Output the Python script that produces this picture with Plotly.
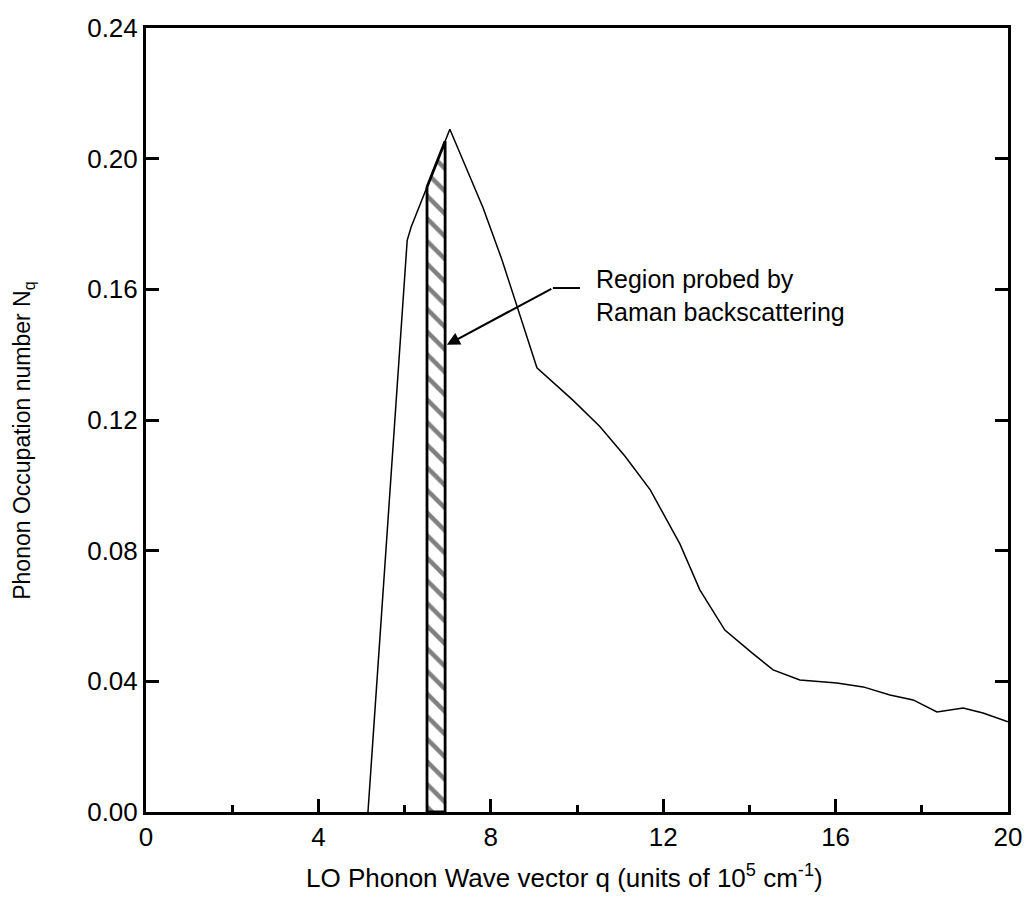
import numpy as np
import plotly.graph_objects as go

# LO phonon occupation number vs. wave vector
q_vals = [5.15, 6.06, 6.15, 7.05, 7.82, 7.93, 8.26, 9.07, 9.91, 10.53, 11.11,
          11.7, 12.39, 12.85, 13.43, 14.06, 14.55, 15.17, 16.03, 16.64, 17.26,
          17.8, 18.35, 18.96, 19.42, 20.0]
nq_vals = [0.0, 0.175, 0.179, 0.209, 0.185, 0.181, 0.169, 0.136, 0.126, 0.118,
           0.109, 0.0986, 0.082, 0.068, 0.0557, 0.0487, 0.0435, 0.0404, 0.0395,
           0.0383, 0.0358, 0.0343, 0.0306, 0.0318, 0.0303, 0.0276]

# q-window probed by Raman backscattering
raman_q = [6.52, 6.94]

# arrow: head, tail, and the short horizontal leader
arrow_head = (6.98, 0.143)
arrow_tail = (9.44, 0.1604)
leader_end_q = 10.07
label_pos = (10.39, 0.1582)

x_ticks = [0, 4, 8, 12, 16, 20]
y_ticks = [0.00, 0.04, 0.08, 0.12, 0.16, 0.20, 0.24]

FONT = "Liberation Sans, Arial, sans-serif"

fig = go.Figure()

# hatched band under the curve
q0, q1 = raman_q
n0, n1 = np.interp([q0, q1], q_vals, nq_vals)
fig.add_trace(go.Scatter(
    x=[q0, q0, q1, q1, q0], y=[0, n0, n1, 0, 0],
    mode="lines", fill="toself",
    line=dict(color="black", width=2.8),
    fillcolor="white",
    fillpattern=dict(shape="\\", size=16, solidity=0.28,
                     fgcolor="black", bgcolor="white"),
    hoverinfo="skip", showlegend=False))

# occupation curve
fig.add_trace(go.Scatter(
    x=q_vals, y=nq_vals, mode="lines",
    line=dict(color="black", width=1.5),
    showlegend=False))

# arrow pointing at the band
fig.add_annotation(
    x=arrow_head[0], y=arrow_head[1], ax=arrow_tail[0], ay=arrow_tail[1],
    xref="x", yref="y", axref="x", ayref="y",
    text="", showarrow=True, arrowhead=2, arrowsize=1.3, arrowwidth=2,
    arrowcolor="black")
fig.add_shape(type="line", xref="x", yref="y",
              x0=arrow_tail[0], y0=arrow_tail[1],
              x1=leader_end_q, y1=arrow_tail[1],
              line=dict(color="black", width=2))

fig.add_annotation(
    x=label_pos[0], y=label_pos[1], xref="x", yref="y",
    text="Region probed by<br>Raman backscattering",
    showarrow=False, xanchor="left", yanchor="middle", align="left",
    font=dict(family=FONT, size=25, color="black"))

# axis titles
fig.add_annotation(
    x=0.486, y=-0.082, xref="paper", yref="paper",
    text="LO Phonon Wave vector q (units of 10<sup>5</sup> cm<sup>-1</sup>)",
    showarrow=False, xanchor="center", yanchor="middle",
    font=dict(family=FONT, size=26, color="black"))
fig.add_annotation(
    x=-0.142, y=0.473, xref="paper", yref="paper",
    text="Phonon Occupation number N<sub>q</sub>", textangle=-90,
    showarrow=False, xanchor="center", yanchor="middle",
    font=dict(family=FONT, size=23, color="black"))

axis_common = dict(
    showgrid=False, zeroline=False, showline=True, linecolor="black",
    linewidth=3, ticks="inside", tickcolor="black", tickwidth=2.5,
    ticklen=13, tickfont=dict(family=FONT, size=26, color="black"))

fig.update_xaxes(
    range=[0, 20], tickvals=x_ticks, mirror=True,
    minor=dict(dtick=2, ticks="inside", ticklen=7, tickwidth=2.5,
               tickcolor="black"),
    **axis_common)
fig.update_yaxes(
    range=[0, 0.24], tickvals=y_ticks, tickformat=".2f", mirror="ticks",
    **axis_common)

fig.update_layout(
    width=1036, height=907,
    margin=dict(l=146, r=28, t=28, b=95),
    paper_bgcolor="white", plot_bgcolor="white",
    showlegend=False)

fig.write_html("out.html")
